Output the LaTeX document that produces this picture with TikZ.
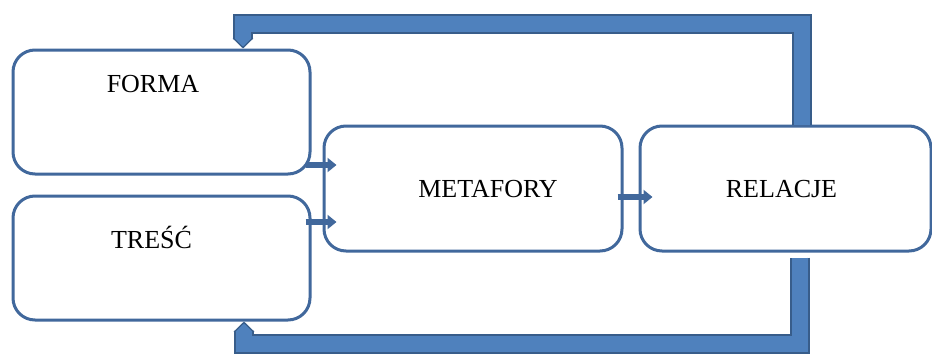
\documentclass[tikz,border=0pt]{standalone}
\usepackage{fontspec}
\setmainfont{Liberation Serif}
\usetikzlibrary{arrows.meta}
\definecolor{boxLine}{HTML}{41689C}
\definecolor{loopFill}{HTML}{4F81BD}
\definecolor{loopLine}{HTML}{385D8A}
\tikzset{
  box/.style={draw=boxLine,line width=3pt,rounded corners=22pt,inner sep=0pt,
    minimum width=#1,minimum height=124pt,font=\fontsize{26}{31}\selectfont},
  link/.style={boxLine,line width=5.5pt,shorten <=-6pt,shorten >=-14pt,
    -{Triangle[width=14pt,length=9pt]}},
}
\NewDocumentCommand\DrawLoop{m}%
{%
\draw[loopLine,line width=20pt,line join=miter,-{Triangle[width=20pt,length=10pt]}] #1;%
\draw[loopFill,line width=16pt,line join=miter,shorten >=2pt,-{Triangle[width=16pt,length=8pt]}] #1;%
}

\begin{document}
\begin{tikzpicture}[x=1pt,y=-1pt]
\useasboundingbox[fill=white] (0,0) rectangle (932,354);
\node[box=297pt,text height=42pt,text depth=82pt] (forma) at (161.5,112) {FORMA\hspace*{17pt}};
\node[box=297pt,text height=52pt,text depth=72pt] (tresc) at (161.5,258) {TREŚĆ\hspace*{20pt}};
\node[box=298pt,text height=71pt,text depth=54pt] (metafory) at (473,188.5) {\hspace*{30pt}METAFORY};
\node[box=291pt,text height=71pt,text depth=54pt] (relacje) at (785.5,188.5) {RELACJE\hspace*{8pt}};
\draw[link] (forma.east |- 0,165) -- (metafory.west |- 0,165);
\draw[link] (tresc.east |- 0,222) -- (metafory.west |- 0,222);
\draw[link] (metafory.east |- 0,197) -- (relacje.west |- 0,197);
% feedback loops
\DrawLoop{(relacje.north -| 802,0) |- (243,23.5) -- (forma.north -| 243,0)}
\DrawLoop{([yshift=-5pt]relacje.south -| 800,0) |- (244,344) -- (tresc.south -| 244,0)}
\end{tikzpicture}
\end{document}
